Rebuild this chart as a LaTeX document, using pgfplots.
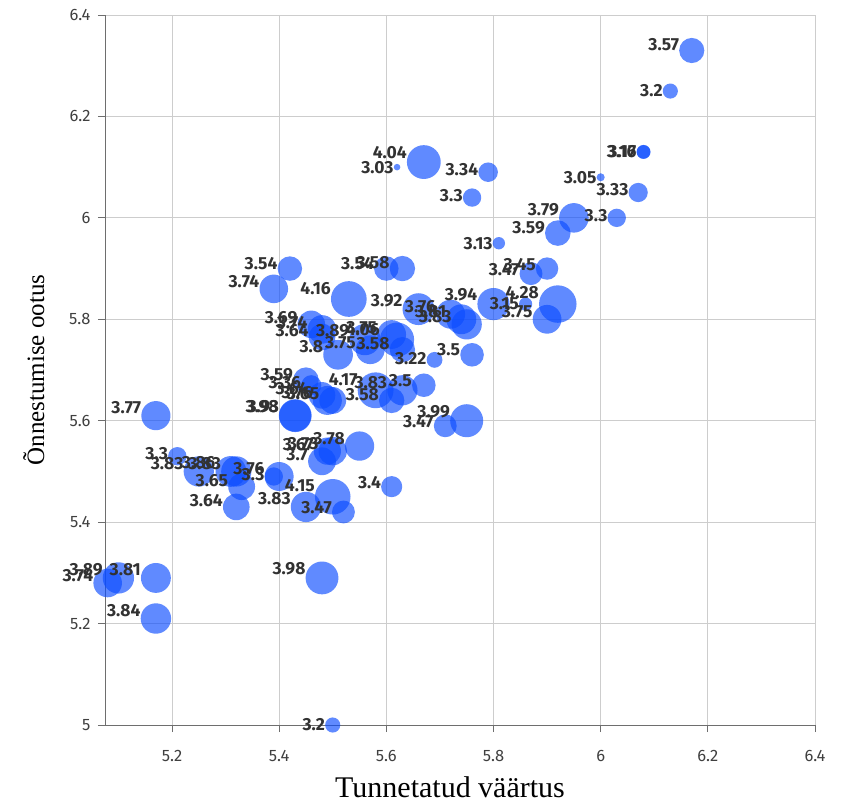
\documentclass[border=0pt]{standalone}
\usepackage{fontspec}
\setmainfont{Liberation Serif}
\newfontfamily\tickfont{Fira Sans}
\newfontfamily\labfont{Fira Sans}
\usepackage{pgfplots}
\pgfplotsset{compat=1.18}
\usepackage{pgfplotstable}

\definecolor{bubble}{RGB}{10,75,255}
\definecolor{gridc}{RGB}{205,205,205}
\definecolor{axisc}{RGB}{110,110,110}
\definecolor{labc}{RGB}{50,50,50}

% x = Tunnetatud vaartus, y = Onnestumise ootus, v = bubble value
\pgfplotstableread{
x     y     v
6.17  6.33  3.57
6.13  6.25  3.20
6.08  6.13  3.17
6.08  6.13  3.16
6.00  6.08  3.05
6.07  6.05  3.33
6.03  6.00  3.30
5.95  6.00  3.79
5.92  5.97  3.59
5.67  6.11  4.04
5.62  6.10  3.03
5.79  6.09  3.34
5.76  6.04  3.30
5.81  5.95  3.13
5.42  5.90  3.54
5.60  5.90  3.54
5.63  5.90  3.58
5.39  5.86  3.74
5.53  5.84  4.16
5.66  5.82  3.92
5.72  5.81  3.76
5.74  5.80  3.81
5.75  5.79  3.83
5.80  5.83  3.94
5.92  5.83  4.28
5.90  5.80  3.75
5.86  5.83  3.15
5.87  5.89  3.47
5.90  5.90  3.45
5.46  5.79  3.69
5.48  5.78  3.74
5.48  5.765 3.64
5.56  5.76  3.89
5.61  5.77  3.75
5.62  5.76  4.06
5.51  5.73  3.80
5.57  5.74  3.75
5.63  5.74  3.58
5.69  5.72  3.22
5.76  5.73  3.50
5.45  5.68  3.59
5.46  5.67  3.36
5.58  5.66  4.17
5.63  5.66  3.83
5.67  5.67  3.50
5.61  5.64  3.58
5.49  5.64  3.76
5.48  5.65  3.64
5.50  5.64  3.65
5.43  5.61  3.98
5.43  5.61  3.93
5.17  5.61  3.77
5.21  5.53  3.30
5.25  5.50  3.83
5.31  5.50  3.86
5.32  5.50  3.83
5.40  5.49  3.76
5.39  5.49  3.30
5.33  5.47  3.65
5.32  5.43  3.64
5.45  5.43  3.83
5.50  5.45  4.15
5.52  5.42  3.47
5.61  5.47  3.40
5.55  5.55  3.78
5.50  5.54  3.73
5.49  5.54  3.67
5.48  5.52  3.70
5.08  5.28  3.74
5.10  5.29  3.89
5.17  5.29  3.81
5.17  5.21  3.84
5.48  5.29  3.98
5.50  5.00  3.20
5.75  5.60  3.99
5.71  5.59  3.47
}\bubbles

\begin{document}
\begin{tikzpicture}
\begin{axis}[
  scale only axis,
  width=710pt, height=710pt,
  xmin=5.075, xmax=6.4,
  ymin=5, ymax=6.4,
  xtick={5.2,5.4,5.6,5.8,6,6.2,6.4},
  ytick={5,5.2,5.4,5.6,5.8,6,6.2,6.4},
  axis x line*=bottom, axis y line*=left,
  axis line style={axisc, line width=0.8pt, -},
  grid=major,
  major grid style={gridc, line width=0.8pt},
  tick align=outside,
  major tick length=7pt,
  tick style={axisc, line width=0.8pt},
  /pgf/number format/assume math mode=true,
  ticklabel style={font=\tickfont\fontsize{16.5}{16.5}\selectfont, text=black!75},
  xticklabel style={yshift=-15pt},
  yticklabel style={xshift=-4pt},
  xlabel={Tunnetatud väärtus},
  ylabel={Õnnestumise ootus},
  xlabel style={font=\fontsize{30}{30}\selectfont, yshift=-8pt, xshift=-10pt},
  ylabel style={font=\fontsize{25}{25}\selectfont, yshift=18pt},
  clip=false,
]
% bubbles, radius growing with the value
\addplot[
  scatter, only marks, mark=*,
  point meta=\thisrow{v},
  scatter/use mapped color={draw opacity=0, fill=bubble, fill opacity=0.65},
  visualization depends on={16.5*sqrt(\thisrow{v}-2.99) \as \rad},
  scatter/@pre marker code/.append style={/tikz/mark size=\rad},
] table[x=x, y=y] {\bubbles};
% value labels, set to the left of each bubble
\addplot[
  draw=none, mark=none,
  point meta=\thisrow{v},
  visualization depends on={16.5*sqrt(\thisrow{v}-2.99) \as \rad},
  nodes near coords={\pgfmathprintnumber[assume math mode=true]{\pgfplotspointmeta}},
  every node near coord/.append style={
    font=\labfont\bfseries\fontsize{17.5}{17.5}\selectfont, text=labc,
    anchor=east, inner sep=0pt,
    xshift={-\rad pt}, yshift={max(\rad-7,0)*1pt}},
] table[x=x, y=y] {\bubbles};
\end{axis}
\path (current axis.south west) ++(-105pt,-82pt) rectangle ++(842pt,807pt);
\end{tikzpicture}
\end{document}
